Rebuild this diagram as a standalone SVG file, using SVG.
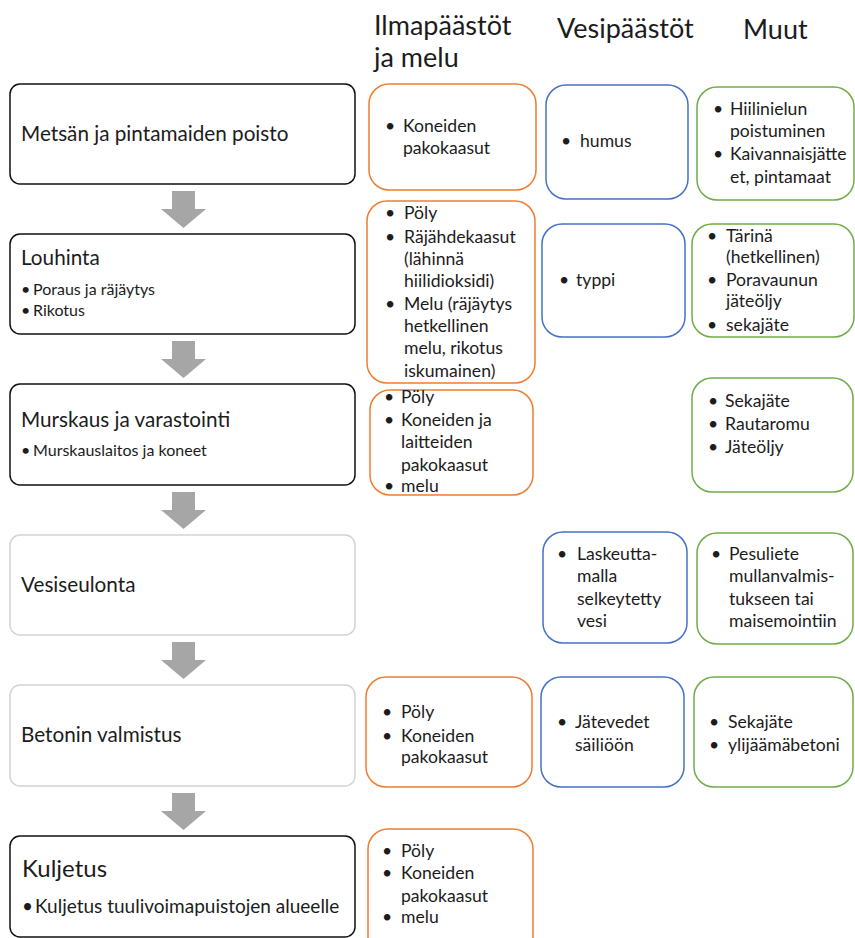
<svg xmlns="http://www.w3.org/2000/svg" width="855" height="938" viewBox="0 0 855 938">
<style>
text{font-family:Lato,"Liberation Sans",sans-serif;fill:#1c1c1c}
.hd{font-size:27px}
.tt{font-size:20.7px}
.tk{font-size:24px}
.sm{font-size:16px}
.b{font-size:17.6px}
.bk{font-size:19px}
.step{fill:#fff;stroke:#111;stroke-width:1.5}
.stepl{fill:#fff;stroke:#d4d4d4;stroke-width:1.5}
.air{fill:#fff;stroke:#ed7d31;stroke-width:1.5}
.wat{fill:#fff;stroke:#4472c4;stroke-width:1.5}
.oth{fill:#fff;stroke:#70ad47;stroke-width:1.5}
.arr{fill:#a6a6a6}
</style>
<defs>
<polygon id="dn" class="arr" points="172,0 195,0 195,18 206,18 183.5,37 161,18 172,18"/>
<clipPath id="clipG4"><rect x="690" y="530" width="170" height="98"/></clipPath>
</defs>

<g id="headers">
<text class="hd" x="374" y="35">Ilmapäästöt</text>
<text class="hd" x="374" y="67">ja melu</text>
<text class="hd" x="557" y="38">Vesipäästöt</text>
<text class="hd" x="743" y="39">Muut</text>
</g>

<g id="connectors">
<use href="#dn" y="191"/>
<use href="#dn" y="341"/>
<use href="#dn" y="492"/>
<use href="#dn" y="642"/>
<use href="#dn" y="793"/>
</g>

<g id="step1">
<rect class="step" x="10" y="84" width="345" height="100" rx="10"/>
<text class="tt" x="21" y="141">Metsän ja pintamaiden poisto</text>
</g>
<g id="step2">
<rect class="step" x="10" y="234" width="345" height="100" rx="10"/>
<text class="tt" x="21" y="265">Louhinta</text>
<text class="sm" x="21" y="295">•</text><text class="sm" x="33" y="295">Poraus ja räjäytys</text>
<text class="sm" x="21" y="316">•</text><text class="sm" x="33" y="316">Rikotus</text>
</g>
<g id="step3">
<rect class="step" x="10" y="384" width="345" height="101" rx="10"/>
<text class="tt" x="21" y="427">Murskaus ja varastointi</text>
<text class="sm" x="21" y="456">•</text><text class="sm" x="33" y="456">Murskauslaitos ja koneet</text>
</g>
<g id="step4">
<rect class="stepl" x="10" y="535" width="345" height="100" rx="10"/>
<text class="tt" x="21" y="592">Vesiseulonta</text>
</g>
<g id="step5">
<rect class="stepl" x="10" y="685" width="345" height="101" rx="10"/>
<text class="tt" x="21" y="742">Betonin valmistus</text>
</g>
<g id="step6">
<rect class="step" x="10" y="836" width="345" height="101" rx="10"/>
<text class="tk" x="22" y="877">Kuljetus</text>
<text class="bk" x="22" y="913">•</text><text class="bk" x="35" y="913">Kuljetus tuulivoimapuistojen alueelle</text>
</g>

<g id="air1">
<rect class="air" x="369" y="84" width="167" height="106" rx="20"/>
<text class="b" x="385" y="132">•</text><text class="b" x="403" y="132">Koneiden</text>
<text class="b" x="403" y="154">pakokaasut</text>
</g>
<g id="air2">
<rect class="air" x="367" y="201" width="168" height="182" rx="20"/>
<text class="b" x="385" y="219">•</text><text class="b" x="404" y="219">Pöly</text>
<text class="b" x="385" y="243">•</text><text class="b" x="404" y="243">Räjähdekaasut</text>
<text class="b" x="404" y="265">(lähinnä</text>
<text class="b" x="404" y="287">hiilidioksidi)</text>
<text class="b" x="385" y="310">•</text><text class="b" x="404" y="310">Melu (räjäytys</text>
<text class="b" x="404" y="332">hetkellinen</text>
<text class="b" x="404" y="354">melu, rikotus</text>
<text class="b" x="404" y="377">iskumainen)</text>
</g>
<g id="air3">
<rect class="air" x="370" y="390" width="163" height="105" rx="20"/>
<text class="b" x="384" y="403">•</text><text class="b" x="401" y="403">Pöly</text>
<text class="b" x="384" y="426">•</text><text class="b" x="401" y="426">Koneiden ja</text>
<text class="b" x="401" y="448">laitteiden</text>
<text class="b" x="401" y="471">pakokaasut</text>
<text class="b" x="384" y="492">•</text><text class="b" x="401" y="492">melu</text>
</g>
<g id="air5">
<rect class="air" x="366" y="677" width="166" height="110" rx="20"/>
<text class="b" x="382" y="718">•</text><text class="b" x="401" y="718">Pöly</text>
<text class="b" x="382" y="742">•</text><text class="b" x="401" y="742">Koneiden</text>
<text class="b" x="401" y="763">pakokaasut</text>
</g>
<g id="air6">
<rect class="air" x="368" y="829" width="165" height="130" rx="20"/>
<text class="b" x="382" y="857">•</text><text class="b" x="401" y="857">Pöly</text>
<text class="b" x="382" y="879">•</text><text class="b" x="401" y="879">Koneiden</text>
<text class="b" x="401" y="902">pakokaasut</text>
<text class="b" x="382" y="923">•</text><text class="b" x="401" y="923">melu</text>
</g>

<g id="water1">
<rect class="wat" x="546" y="85" width="142" height="114" rx="20"/>
<text class="b" x="561" y="147">•</text><text class="b" x="580" y="147">humus</text>
</g>
<g id="water2">
<rect class="wat" x="542" y="224" width="143" height="113" rx="20"/>
<text class="b" x="559" y="286">•</text><text class="b" x="576" y="286">typpi</text>
</g>
<g id="water4">
<rect class="wat" x="543" y="532" width="144" height="111" rx="20"/>
<text class="b" x="557" y="560">•</text><text class="b" x="577" y="560">Laskeutta-</text>
<text class="b" x="577" y="582">malla</text>
<text class="b" x="577" y="605">selkeytetty</text>
<text class="b" x="577" y="627">vesi</text>
</g>
<g id="water5">
<rect class="wat" x="541" y="677" width="143" height="110" rx="20"/>
<text class="b" x="557" y="728">•</text><text class="b" x="575" y="728">Jätevedet</text>
<text class="b" x="575" y="751">säiliöön</text>
</g>

<g id="other1">
<rect class="oth" x="697" y="87" width="157" height="113" rx="20"/>
<text class="b" x="713" y="115">•</text><text class="b" x="730" y="115">Hiilinielun</text>
<text class="b" x="730" y="137">poistuminen</text>
<text class="b" x="713" y="160">•</text><text class="b" x="730" y="160">Kaivannaisjätte</text>
<text class="b" x="730" y="183">et, pintamaat</text>
</g>
<g id="other2">
<rect class="oth" x="692" y="224" width="162" height="113" rx="20"/>
<text class="b" x="707" y="242">•</text><text class="b" x="726" y="242">Tärinä</text>
<text class="b" x="726" y="263">(hetkellinen)</text>
<text class="b" x="707" y="286">•</text><text class="b" x="726" y="286">Poravaunun</text>
<text class="b" x="726" y="307">jäteöljy</text>
<text class="b" x="707" y="331">•</text><text class="b" x="726" y="331">sekajäte</text>
</g>
<g id="other3">
<rect class="oth" x="692" y="378" width="161" height="114" rx="20"/>
<text class="b" x="708" y="407">•</text><text class="b" x="725" y="407">Sekajäte</text>
<text class="b" x="708" y="430">•</text><text class="b" x="725" y="430">Rautaromu</text>
<text class="b" x="708" y="453">•</text><text class="b" x="725" y="453">Jäteöljy</text>
</g>
<g id="other4">
<rect class="oth" x="697" y="533" width="156" height="111" rx="20"/>
<g clip-path="url(#clipG4)">
<text class="b" x="711" y="560">•</text><text class="b" x="729" y="560">Pesuliete</text>
<text class="b" x="729" y="582">mullanvalmis-</text>
<text class="b" x="729" y="605">tukseen tai</text>
<text class="b" x="729" y="627">maisemointiin</text>
</g>
</g>
<g id="other5">
<rect class="oth" x="694" y="677" width="159" height="110" rx="20"/>
<text class="b" x="709" y="728">•</text><text class="b" x="728" y="728">Sekajäte</text>
<text class="b" x="709" y="751">•</text><text class="b" x="728" y="751">ylijäämäbetoni</text>
</g>
</svg>
